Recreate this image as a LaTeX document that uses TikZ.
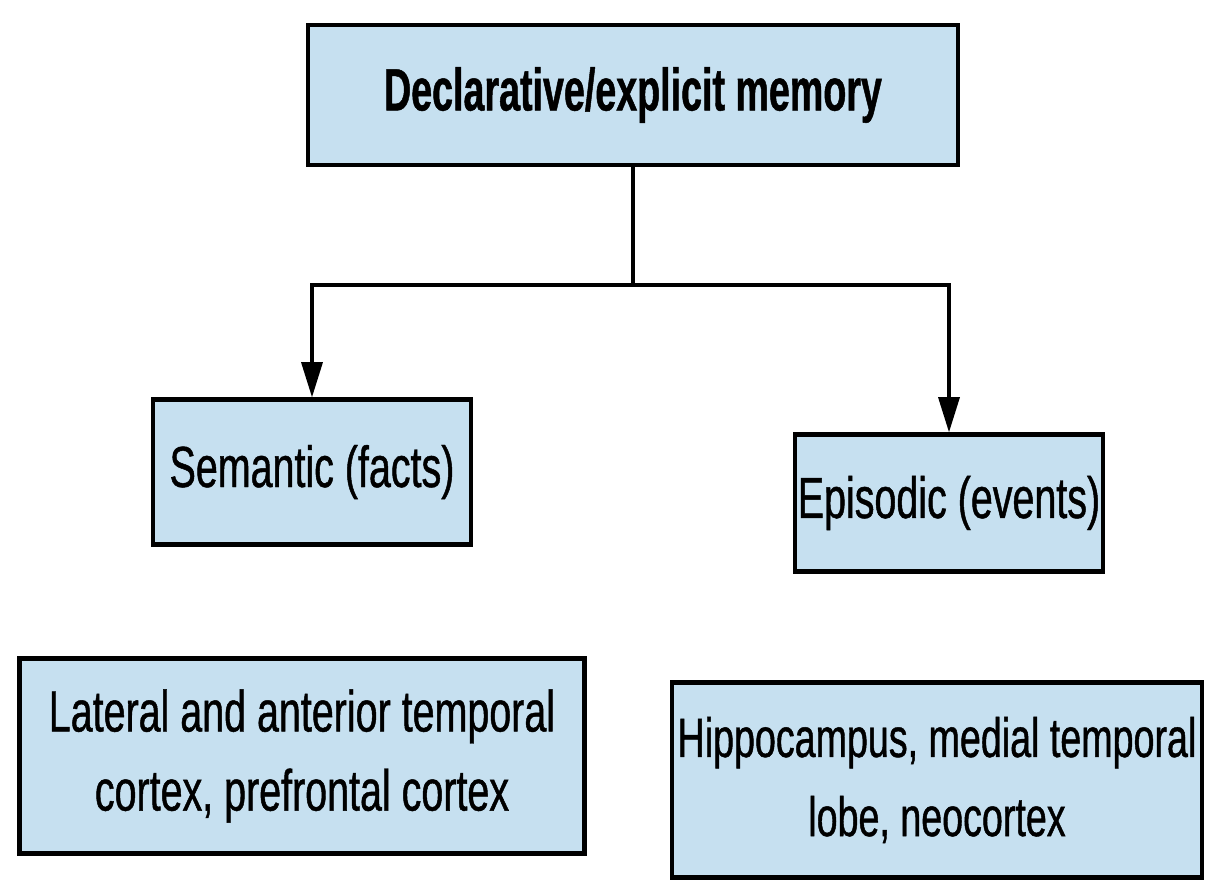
\documentclass[tikz,border=0pt]{standalone}
\usepackage{fontspec}
\setmainfont[FakeStretch=0.68, FakeBold=0.8,
  BoldFeatures={FakeStretch=0.63}]{Liberation Sans}
\usepackage{tikz}
\usetikzlibrary{arrows.meta,positioning}
\usepackage{xcolor}
\definecolor{memblue}{RGB}{198,224,240}

\begin{document}
\begin{tikzpicture}[>={Triangle[width=12pt,length=20pt]},
  box/.style={draw, line width=2.5pt, fill=memblue, inner sep=0pt,
              align=center, font=\fontsize{33}{45}\selectfont},
  link/.style={line width=1.8pt}]
  \useasboundingbox (0,0) rectangle (24.1,-17.7);
  % Root
  \node[box, minimum width=13cm, minimum height=2.8cm,
        font=\fontsize{34}{40}\selectfont\bfseries] (decl) at (12.66,-1.9)
        {Declarative/explicit memory};
  % Two kinds
  \node[box, minimum width=6.36cm, minimum height=2.9cm] (sem) at (6.24,-9.44)
        {Semantic (facts)};
  \node[box, minimum width=6.16cm, minimum height=2.74cm] (epi) at (18.98,-10.06)
        {Episodic (events)};
  % Brain regions
  \node[box, minimum width=11.3cm, minimum height=3.9cm] (lat) at (6.04,-15.12)
        {Lateral and anterior temporal\\cortex, prefrontal cortex};
  \node[box, minimum width=10.6cm, minimum height=3.9cm,
        font=\fontsize{31.5}{45}\selectfont] (hip) at (18.74,-15.6)
        {Hippocampus, medial temporal\\lobe, neocortex};
  % Branching
  \coordinate (split) at (decl.south |- 0,-5.7);
  \draw[link] (decl.south) -- (split);
  \draw[link,->] (split) -| (sem.north);
  \draw[link,->] (split) -| (epi.north);
\end{tikzpicture}
\end{document}
